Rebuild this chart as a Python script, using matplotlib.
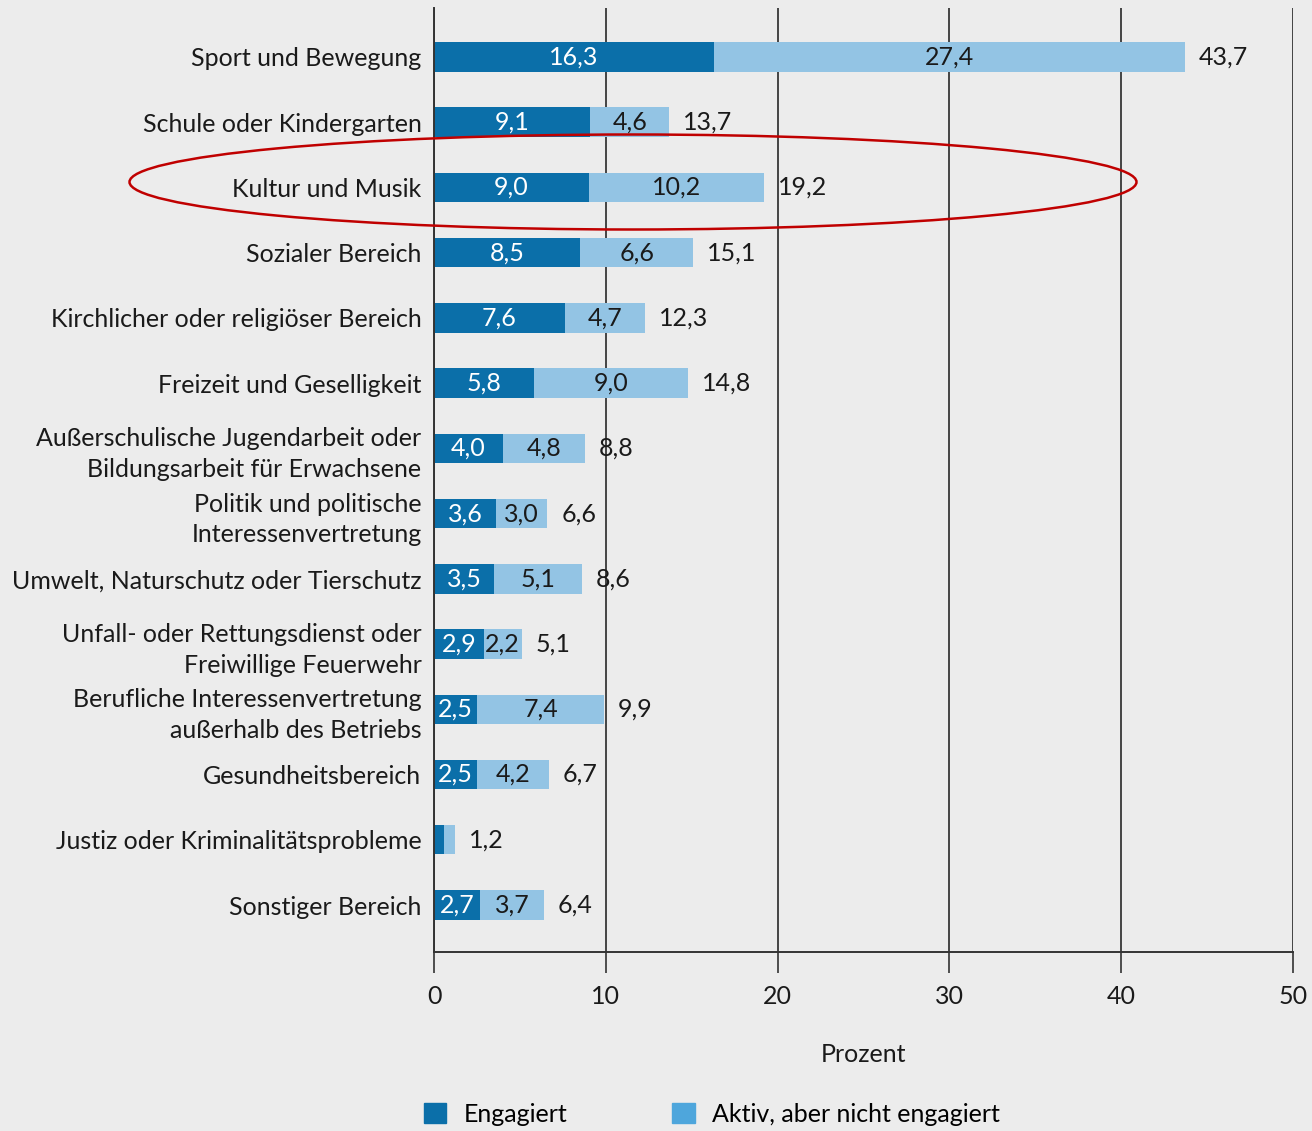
import numpy as np
import matplotlib.pyplot as plt
from matplotlib.patches import Ellipse, Patch

plt.rcParams['font.family'] = ['Lato', 'DejaVu Sans']

kategorien = [
    'Sport und Bewegung',
    'Schule oder Kindergarten',
    'Kultur und Musik',
    'Sozialer Bereich',
    'Kirchlicher oder religiöser Bereich',
    'Freizeit und Geselligkeit',
    'Außerschulische Jugendarbeit oder\nBildungsarbeit für Erwachsene',
    'Politik und politische\nInteressenvertretung',
    'Umwelt, Naturschutz oder Tierschutz',
    'Unfall- oder Rettungsdienst oder\nFreiwillige Feuerwehr',
    'Berufliche Interessenvertretung\naußerhalb des Betriebs',
    'Gesundheitsbereich',
    'Justiz oder Kriminalitätsprobleme',
    'Sonstiger Bereich',
]
engagiert = [16.3, 9.1, 9.0, 8.5, 7.6, 5.8, 4.0, 3.6, 3.5, 2.9, 2.5, 2.5, 0.6, 2.7]
aktiv = [27.4, 4.6, 10.2, 6.6, 4.7, 9.0, 4.8, 3.0, 5.1, 2.2, 7.4, 4.2, 0.6, 3.7]
gesamt = [43.7, 13.7, 19.2, 15.1, 12.3, 14.8, 8.8, 6.6, 8.6, 5.1, 9.9, 6.7, 1.2, 6.4]
mit_werten = [True] * 12 + [False, True]

bg = '#ececec'
dunkel = '#0b6fa9'
hell = '#93c4e4'
fs = 18

def fmt(v):
    return f'{v:.1f}'.replace('.', ',')

fig = plt.figure(figsize=(13.12, 11.31), dpi=100, facecolor=bg)
ax = fig.add_axes([434 / 1312, 1 - 952 / 1131, (1293 - 434) / 1312, (952 - 8) / 1131])
ax.set_facecolor(bg)

y = np.arange(len(kategorien))
h = 0.45
ax.barh(y, engagiert, height=h, color=dunkel, zorder=3)
ax.barh(y, aktiv, left=engagiert, height=h, color=hell, zorder=3)

for i in range(len(y)):
    if mit_werten[i]:
        ax.text(engagiert[i] / 2, y[i], fmt(engagiert[i]), ha='center', va='center',
                color='white', fontsize=fs, zorder=4)
        ax.text(engagiert[i] + aktiv[i] / 2, y[i], fmt(aktiv[i]), ha='center', va='center',
                color='#1a1a1a', fontsize=fs, zorder=4)
    ax.annotate(fmt(gesamt[i]), (engagiert[i] + aktiv[i], y[i]), xytext=(10, 0),
                textcoords='offset points', ha='left', va='center',
                color='#1a1a1a', fontsize=fs, zorder=4)

ax.set_xlim(0, 50)
ax.set_ylim(13.72, -0.75)
ax.set_xticks([0, 10, 20, 30, 40, 50])
ax.set_xticklabels(['0', '10', '20', '30', '40', '50'], fontsize=fs, color='#1a1a1a')
ax.set_yticks(y)
ax.set_yticklabels(kategorien, fontsize=fs, color='#1a1a1a', linespacing=1.4)
ax.tick_params(axis='y', length=0, pad=9)
ax.tick_params(axis='x', length=15, width=1.2, color='#333333', pad=9)
ax.grid(axis='x', color='#444444', linewidth=1.4, zorder=1)
for s in ['top', 'right']:
    ax.spines[s].set_visible(False)
ax.spines['left'].set_color('#333333')
ax.spines['left'].set_linewidth(1.4)
ax.spines['left'].set_zorder(5)
ax.spines['bottom'].set_color('#333333')
ax.spines['bottom'].set_linewidth(1.4)
ax.set_xlabel('Prozent', fontsize=fs, color='#1a1a1a', labelpad=25)

# Markierung um "Kultur und Musik"
ell = Ellipse((633 / 1312, 1 - 182 / 1131), 1007 / 1312, 95 / 1131,
              transform=fig.transFigure, fill=False, edgecolor='#c00000',
              linewidth=1.8, zorder=10)
fig.add_artist(ell)

handles = [Patch(color=dunkel, label='Engagiert'),
           Patch(color='#4ea6dc', label='Aktiv, aber nicht engagiert')]
fig.legend(handles=handles, loc='center', bbox_to_anchor=(712 / 1312, 1 - 1114 / 1131),
           ncol=2, frameon=False, fontsize=fs, handlelength=0.9, handleheight=0.9,
           columnspacing=4.2, handletextpad=0.7)

fig.savefig('out.png', dpi=100, facecolor=bg)
